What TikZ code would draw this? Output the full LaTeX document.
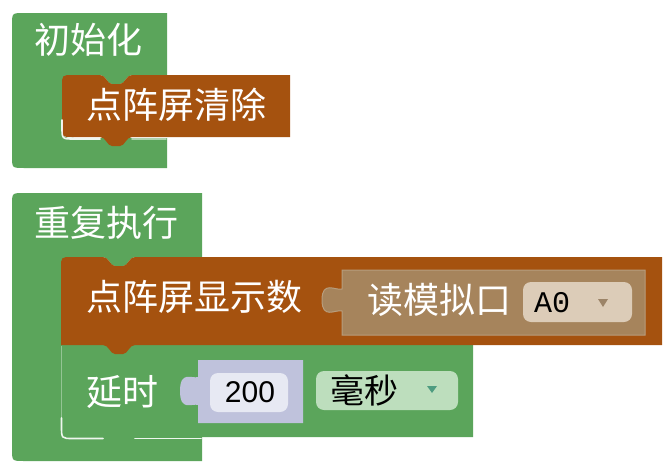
\documentclass[tikz,border=0pt]{standalone}
\usepackage{fontspec}
\newfontfamily\cjk{Noto Sans CJK SC}
\newfontfamily\lsans{Liberation Sans}
\newfontfamily\lmono{Liberation Mono}
\definecolor{bgreen}{HTML}{5BA55B}
\definecolor{bbrown}{HTML}{A5520F}
\definecolor{btan}{HTML}{A6845C}
\definecolor{btanfield}{HTML}{DCCCB8}
\definecolor{blav}{HTML}{BFC2DC}
\definecolor{blavfield}{HTML}{E7E9F3}
\definecolor{bgreenfield}{HTML}{BDDEBD}
\definecolor{arrtan}{HTML}{9C8468}
\definecolor{arrgreen}{HTML}{4E9C80}
\newcommand\dipR[2]{-- (#1,#2) .. controls (#1+6,#2) and (#1+7,#2+9) .. (#1+12,#2+9) -- (#1+20,#2+9) .. controls (#1+25,#2+9) and (#1+26,#2) .. (#1+32,#2)}
\newcommand\dipL[2]{-- (#1+32,#2) .. controls (#1+26,#2) and (#1+25,#2+9) .. (#1+20,#2+9) -- (#1+12,#2+9) .. controls (#1+7,#2+9) and (#1+6,#2) .. (#1,#2)}
\begin{document}
\begin{tikzpicture}[x=1pt,y=-1pt,
  lbl/.style={anchor=west,inner sep=0pt,text=white,font=\cjk\fontsize{36}{40}\selectfont},
  dlbl/.style={anchor=west,inner sep=0pt,text=black,font=\cjk\fontsize{34}{40}\selectfont},
  hl/.style={white,line width=1.6pt,opacity=0.9,line cap=round}]
\useasboundingbox (0,0) rectangle (664,463);
% ---- block 1: initialisation
\fill[bgreen] (12,25) .. controls (12,13) .. (24,13) -- (167,13) -- (167,75) \dipL{100}{75} -- (75,75) -- (75,88) -- (63,88) -- (63,127) .. controls (63,138) .. (74,138) -- (167,138) -- (167,168) -- (24,168) .. controls (12,168) .. (12,156) -- cycle;
\fill[bbrown] (62,86) .. controls (62,75) .. (73,75) \dipR{100}{75} -- (290,75) -- (290,137) \dipL{100}{137} -- (72,137) .. controls (62,137) .. (62,127) -- cycle;
\draw[hl] (62,120) -- (62,127) .. controls (62,139) .. (74,139) -- (100,139);
\draw[hl,opacity=0.5] (132,139) -- (166,139);
% ---- block 2: repeat
\fill[bgreen] (12,205) .. controls (12,193) .. (24,193) -- (202,193) -- (202,257) \dipL{103}{257} -- (74,257) -- (74,270) -- (62,270) -- (62,426) .. controls (62,437) .. (73,437) -- (202,437) -- (202,461) -- (24,461) .. controls (12,461) .. (12,449) -- cycle;
% delay block
\fill[bgreen] (61,345) -- (473,345) -- (473,437) \dipL{103}{437} -- (72,437) .. controls (61,437) .. (61,426) -- cycle;
\draw[white,opacity=0.35,line width=0.8pt] (61.5,346) -- (61.5,420);
\draw[hl] (61.5,418) -- (61.5,426) .. controls (61.5,438.5) .. (73,438.5) -- (103,438.5);
\draw[hl] (135,438.5) -- (201,438.5);
% display block
\fill[bbrown] (61,268) .. controls (61,257) .. (72,257) \dipR{103}{257} -- (662,257) -- (662,345) \dipL{103}{345} -- (61,345) -- cycle;
% read analog value block
\fill[btan, draw=btan!80!white, line width=1pt] (342,270) -- (645,270) -- (645,335) -- (342,335) -- (342,311) .. controls (336,309) and (322,320) .. (322,300) .. controls (322,280) and (336,291) .. (342,289) -- cycle;
% number block
\fill[blav] (198,360) -- (303,360) -- (303,423) -- (198,423) -- (198,405) .. controls (192,403) and (180,412) .. (180,391) .. controls (180,370) and (192,379) .. (198,377) -- cycle;
% fields
\fill[btanfield, rounded corners=8pt] (523,282) rectangle (632,322);
\fill[blavfield, rounded corners=8pt] (210,373) rectangle (288,412);
\fill[bgreenfield, rounded corners=8pt] (316,371) rectangle (458,410);
\fill[arrtan] (598,299) -- (608,299) -- (603,307) -- cycle;
\fill[arrgreen] (427,386) -- (437,386) -- (432,393) -- cycle;
% texts
\node[lbl] (t1) at (34,40) {初始化};
\node[lbl] (t2) at (86,105) {点阵屏清除};
\node[lbl] (t3) at (34,223) {重复执行};
\node[lbl] (t4) at (86,297) {点阵屏显示数};
\node[lbl] (t5) at (367,300) {读模拟口};
\node[lbl] (t6) at (86,392) {延时};
\node[inner sep=0pt,font=\lmono\fontsize{30}{34}\selectfont] (t7) at (552,303) {A0};
\node[inner sep=0pt,font=\lsans\fontsize{30}{34}\selectfont] (t8) at (250,392) {200};
\node[dlbl] (t9) at (330,390) {毫秒};
\end{tikzpicture}
\end{document}
